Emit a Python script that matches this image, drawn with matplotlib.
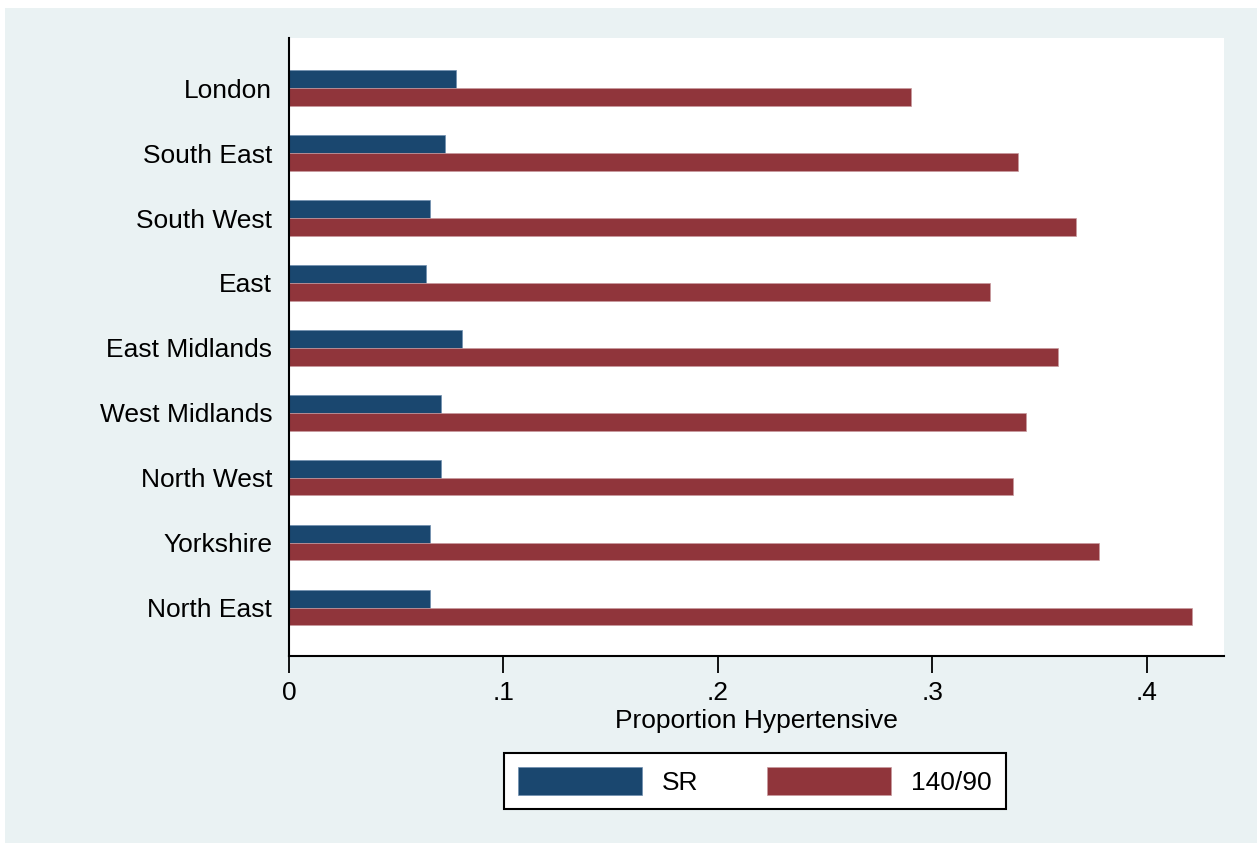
import matplotlib.pyplot as plt
import numpy as np
from matplotlib.patches import Rectangle

# Data
regions = ['London', 'South East', 'South West', 'East', 'East Midlands',
           'West Midlands', 'North West', 'Yorkshire', 'North East']
sr = [0.078, 0.0726, 0.0656, 0.064, 0.0805, 0.071, 0.071, 0.0656, 0.0656]
bp_140_90 = [0.290, 0.340, 0.367, 0.327, 0.3586, 0.3437, 0.3376, 0.3776, 0.421]
xticks = [0, 0.1, 0.2, 0.3, 0.4]
xtick_labels = ['0', '.1', '.2', '.3', '.4']

plt.rcParams['font.family'] = ['Liberation Sans', 'DejaVu Sans']

blue = '#1A476F'
red = '#90353B'
panel = '#EAF2F3'
fs = 19

fig = plt.figure(figsize=(12.57, 8.43), dpi=100)
fig.patch.set_facecolor('white')
# light panel behind everything (thin white strip top/left as in the original)
fig.add_artist(Rectangle((5 / 1257, 0), 1, 1 - 8 / 843, transform=fig.transFigure,
                         facecolor=panel, edgecolor='none', zorder=-10))

ax = fig.add_axes([289 / 1257, 1 - 656 / 843, (1224 - 289) / 1257, (656 - 38) / 843])
ax.set_facecolor('white')

y = np.arange(len(regions))
h = 0.27
ax.barh(y - h / 2, sr, height=h, color=blue, edgecolor='#6F8FAF', linewidth=0.5, label='SR')
ax.barh(y + h / 2, bp_140_90, height=h, color=red, edgecolor='#C89A9E', linewidth=0.5, label='140/90')

ax.set_xlim(0, 0.436)
ax.set_ylim(8.74, -0.77)
ax.set_yticks(y)
ax.set_yticklabels(regions, fontsize=fs)
ax.tick_params(axis='y', length=0, pad=12)
ax.set_xticks(xticks)
ax.set_xticklabels(xtick_labels, fontsize=fs)
ax.tick_params(axis='x', length=12, width=1.3, pad=6)
ax.set_xlabel('Proportion Hypertensive', fontsize=fs, labelpad=3)

for side in ['top', 'right']:
    ax.spines[side].set_visible(False)
for side in ['left', 'bottom']:
    ax.spines[side].set_linewidth(1.5)
    ax.spines[side].set_color('black')

leg = fig.legend(loc='center', bbox_to_anchor=(755 / 1257, 1 - 781 / 843), ncol=2,
                 fontsize=fs, frameon=True, fancybox=False, shadow=False,
                 handlelength=4.7, handleheight=1.25, handletextpad=0.75,
                 columnspacing=2.6, borderpad=0.55)
leg.get_frame().set_edgecolor('black')
leg.get_frame().set_linewidth(1.5)
leg.get_frame().set_facecolor('white')
leg.get_frame().set_alpha(1)

fig.savefig('out.png', dpi=100, facecolor=fig.get_facecolor())
